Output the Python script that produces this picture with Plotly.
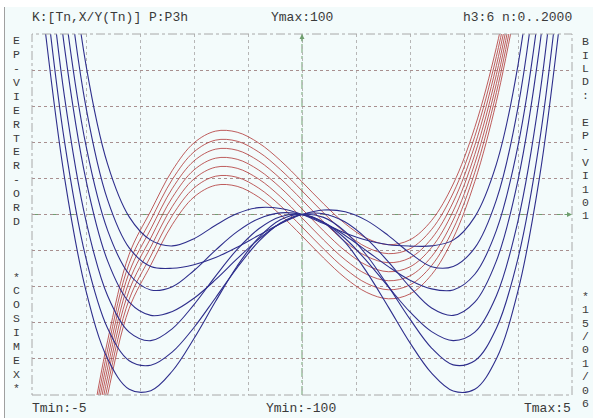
import plotly.graph_objects as go

# ---------------- data ----------------
T_BLUE = [-4.8, -4.4, -4.0, -3.6, -3.2, -2.8, -2.4, -2.0, -1.6, -1.2, -0.8, -0.4, 0.0,
          0.4, 0.8, 1.2, 1.6, 2.0, 2.4, 2.8, 3.2, 3.6, 4.0, 4.4, 4.8]

BLUE_1 = [324.7, 176.2, 82.8, 27.9, -1.3, -14.2, -17.4, -13.4, -5.9, 0.5, 3.8, 3.3, 0.0,
          -5.0, -10.2, -14.3, -16.8, -17.5, -17.4, -14.2, -1.3, 27.9, 82.8, 176.2, 324.7]
BLUE_2 = [285.8, 147.0, 59.4, 8.1, -18.5, -28.8, -29.8, -27.8, -23.8, -18.1, -11.5, -5.1, 0.0,
          2.5, 1.5, -3.4, -11.7, -21.4, -28.9, -28.8, -18.5, 8.1, 59.4, 147.0, 285.8]
BLUE_3 = [237.3, 116.4, 38.1, -8.8, -33.1, -41.8, -40.0, -31.0, -19.7, -9.5, -2.3, 0.9, 0.0,
          -4.5, -11.6, -20.2, -28.9, -36.4, -41.2, -41.8, -33.1, -8.8, 38.1, 116.4, 237.3]
BLUE_4 = [204.7, 93.0, 19.1, -25.7, -48.6, -55.9, -53.7, -46.4, -36.1, -24.5, -13.6, -5.0, 0.0,
          0.4, -4.2, -13.5, -26.3, -40.2, -51.8, -55.9, -48.6, -25.7, 19.1, 93.0, 204.7]
BLUE_5 = [169.4, 65.6, -3.5, -45.0, -65.2, -69.9, -63.2, -49.9, -34.1, -19.3, -7.9, -1.2, 0.0,
          -4.3, -13.3, -25.8, -40.1, -54.0, -64.9, -69.9, -65.2, -45.0, -3.5, 65.6, 169.4]
BLUE_6 = [138.0, 40.8, -24.3, -63.0, -81.0, -83.5, -76.1, -62.6, -46.1, -29.4, -14.9, -4.7, 0.0,
          -1.6, -9.5, -22.7, -39.8, -58.0, -74.0, -83.3, -81.0, -63.0, -24.3, 40.8, 138.0]
BLUE_7 = [113.5, 20.8, -42.3, -79.9, -96.8, -97.6, -86.7, -68.7, -48.1, -28.5, -12.8, -2.9, 0.0,
          -4.4, -15.5, -31.9, -51.3, -71.1, -87.9, -97.8, -96.8, -79.9, -42.3, 20.8, 113.5]

T_RED = [-4.0, -3.6, -3.2, -2.8, -2.4, -2.0, -1.6, -1.2, -0.8, -0.4, 0.0,
         0.4, 0.8, 1.2, 1.6, 2.0, 2.4, 2.8, 3.2, 3.6, 4.0]

RED_1 = [-135, -70, -22, 2, 24.5, 39.7, 46.2, 45.6, 39.6, 29.9, 18.1,
         5.9, -5.1, -13.2, -16.7, -14.0, -3.3, 16.9, 48.3, 92.6, 151.4]
RED_2 = [-140, -75, -27, -3, 19.5, 34.7, 41.2, 40.6, 34.6, 24.9, 13.1,
         0.9, -10.1, -18.2, -21.7, -19.0, -8.3, 11.9, 43.3, 87.6, 146.4]
RED_3 = [-145, -80, -32, -8, 14.5, 29.7, 36.2, 35.6, 29.6, 19.9, 8.1,
         -4.1, -15.1, -23.2, -26.7, -24.0, -13.3, 6.9, 38.3, 82.6, 141.4]
RED_4 = [-150, -85, -37, -13, 9.5, 24.7, 31.2, 30.6, 24.6, 14.9, 3.1,
         -9.1, -20.1, -28.2, -31.7, -29.0, -18.3, 1.9, 33.3, 77.6, 136.4]
RED_5 = [-155, -90, -42, -18, 4.5, 19.7, 26.2, 25.6, 19.6, 9.9, -1.9,
         -14.1, -25.1, -33.2, -36.7, -34.0, -23.3, -3.1, 28.3, 72.6, 131.4]
RED_6 = [-160, -95, -47, -23, -0.5, 14.7, 21.2, 20.6, 14.6, 4.9, -6.9,
         -19.1, -30.1, -38.2, -41.7, -39.0, -28.3, -8.1, 23.3, 67.6, 126.4]
RED_7 = [-165, -100, -52, -28, -5.5, 9.7, 16.2, 15.6, 9.6, -0.1, -11.9,
         -24.1, -35.1, -43.2, -46.7, -44.0, -33.3, -13.1, 18.3, 62.6, 121.4]

T_MIN, T_MAX = -5, 5
Y_MIN, Y_MAX = -100, 100

TOP_LEFT = "K:[Tn,X/Y(Tn)] P:P3h"
TOP_MID = "Ymax:100"
TOP_RIGHT = "h3:6 n:0..2000"
BOT_LEFT = "Tmin:-5"
BOT_MID = "Ymin:-100"
BOT_RIGHT = "Tmax:5"
LEFT_COLUMN = "EP-VIERTER-ORD   *COSIMEX*"
RIGHT_COLUMN = "BILD: EP-VI101     *15/01/06"

# ---------------- layout geometry ----------------
W, H = 593, 418
ML, MR, MT, MB = 32, 21, 34, 23
PW = W - ML - MR
PH = H - MT - MB


def px(x):
    return (x - ML) / PW


def py(y):
    return (H - MB - y) / PH


BLUE = "#2e2e8c"
RED = "rgba(176,52,52,0.8)"
GREEN = "#6f9f6f"
TXT = "#3a3a3a"
FONT = "Liberation Mono, Courier New, monospace"

fig = go.Figure()
for ys in [RED_1, RED_2, RED_3, RED_4, RED_5, RED_6, RED_7]:
    fig.add_trace(go.Scatter(x=T_RED, y=ys, mode="lines",
                             line=dict(color=RED, width=1, shape="spline"),
                             hoverinfo="skip"))
for ys in [BLUE_1, BLUE_2, BLUE_3, BLUE_4, BLUE_5, BLUE_6, BLUE_7]:
    fig.add_trace(go.Scatter(x=T_BLUE, y=ys, mode="lines",
                             line=dict(color=BLUE, width=1.1, shape="spline"),
                             hoverinfo="skip"))

shapes = [
    # pale background panel
    dict(type="rect", xref="paper", yref="paper", x0=px(5), x1=px(W + 5),
         y0=py(H + 5), y1=py(7), fillcolor="#f3fbfb", line=dict(width=0), layer="below"),
    dict(type="line", xref="paper", yref="paper", x0=px(4.5), x1=px(4.5),
         y0=py(H + 5), y1=py(7), line=dict(color="#a0a0a0", width=1), layer="below"),
    # green axes
    dict(type="line", xref="x", yref="y", x0=0, x1=0, y0=Y_MIN, y1=Y_MAX,
         line=dict(color=GREEN, width=1, dash="dashdot"), layer="below"),
    dict(type="line", xref="x", yref="y", x0=T_MIN, x1=T_MAX, y0=0, y1=0,
         line=dict(color=GREEN, width=1, dash="dashdot"), layer="below"),
    # plot frame
    dict(type="rect", xref="paper", yref="paper", x0=0, x1=1, y0=0, y1=1,
         line=dict(color="#a8a8a8", width=1, dash="dashdot"), fillcolor="rgba(0,0,0,0)",
         layer="above"),
]

ann = []


def txt(s, x, y, xa, size=13):
    ann.append(dict(text=s, xref="paper", yref="paper", x=px(x), y=py(y),
                    xanchor=xa, yanchor="middle", showarrow=False, borderpad=0,
                    font=dict(family=FONT, size=size, color=TXT)))


txt(TOP_LEFT, 31, 18, "left")
txt(TOP_MID, 302, 18, "center")
txt(TOP_RIGHT, 573, 18, "right")
txt(BOT_LEFT, 31, 408, "left")
txt(BOT_MID, 301, 408, "center")
txt(BOT_RIGHT, 572, 408, "right")
for i, ch in enumerate(LEFT_COLUMN):
    if ch != " ":
        txt(ch, 16, 40.7 + 13.9 * i, "center", 11.5)
for i, ch in enumerate(RIGHT_COLUMN):
    if ch != " ":
        txt(ch, 585, 41.7 + 13.4 * i, "center", 11.5)

# axis arrow heads
ann.append(dict(x=0, y=Y_MAX, xref="x", yref="y", ax=0, ay=9, text="", showarrow=True,
                arrowhead=2, arrowsize=1, arrowwidth=1, arrowcolor=GREEN))
ann.append(dict(x=T_MAX, y=0, xref="x", yref="y", ax=-9, ay=0, text="", showarrow=True,
                arrowhead=2, arrowsize=1, arrowwidth=1, arrowcolor=GREEN))

fig.update_layout(
    width=W, height=H,
    margin=dict(l=ML, r=MR, t=MT, b=MB, pad=0, autoexpand=False),
    paper_bgcolor="white", plot_bgcolor="rgba(0,0,0,0)",
    showlegend=False,
    xaxis=dict(range=[T_MIN, T_MAX], tick0=0, dtick=1, showgrid=True, gridcolor="#b6b6b6",
               griddash="dot", gridwidth=1, zeroline=False, showticklabels=False,
               ticks="", showline=False, fixedrange=True),
    yaxis=dict(range=[Y_MIN, Y_MAX], tick0=0, dtick=20, showgrid=True, gridcolor="#a88f8f",
               griddash="dot", gridwidth=1, zeroline=False, showticklabels=False,
               ticks="", showline=False, fixedrange=True),
    shapes=shapes, annotations=ann,
)

fig.write_html("out.html", config={"displayModeBar": False})
